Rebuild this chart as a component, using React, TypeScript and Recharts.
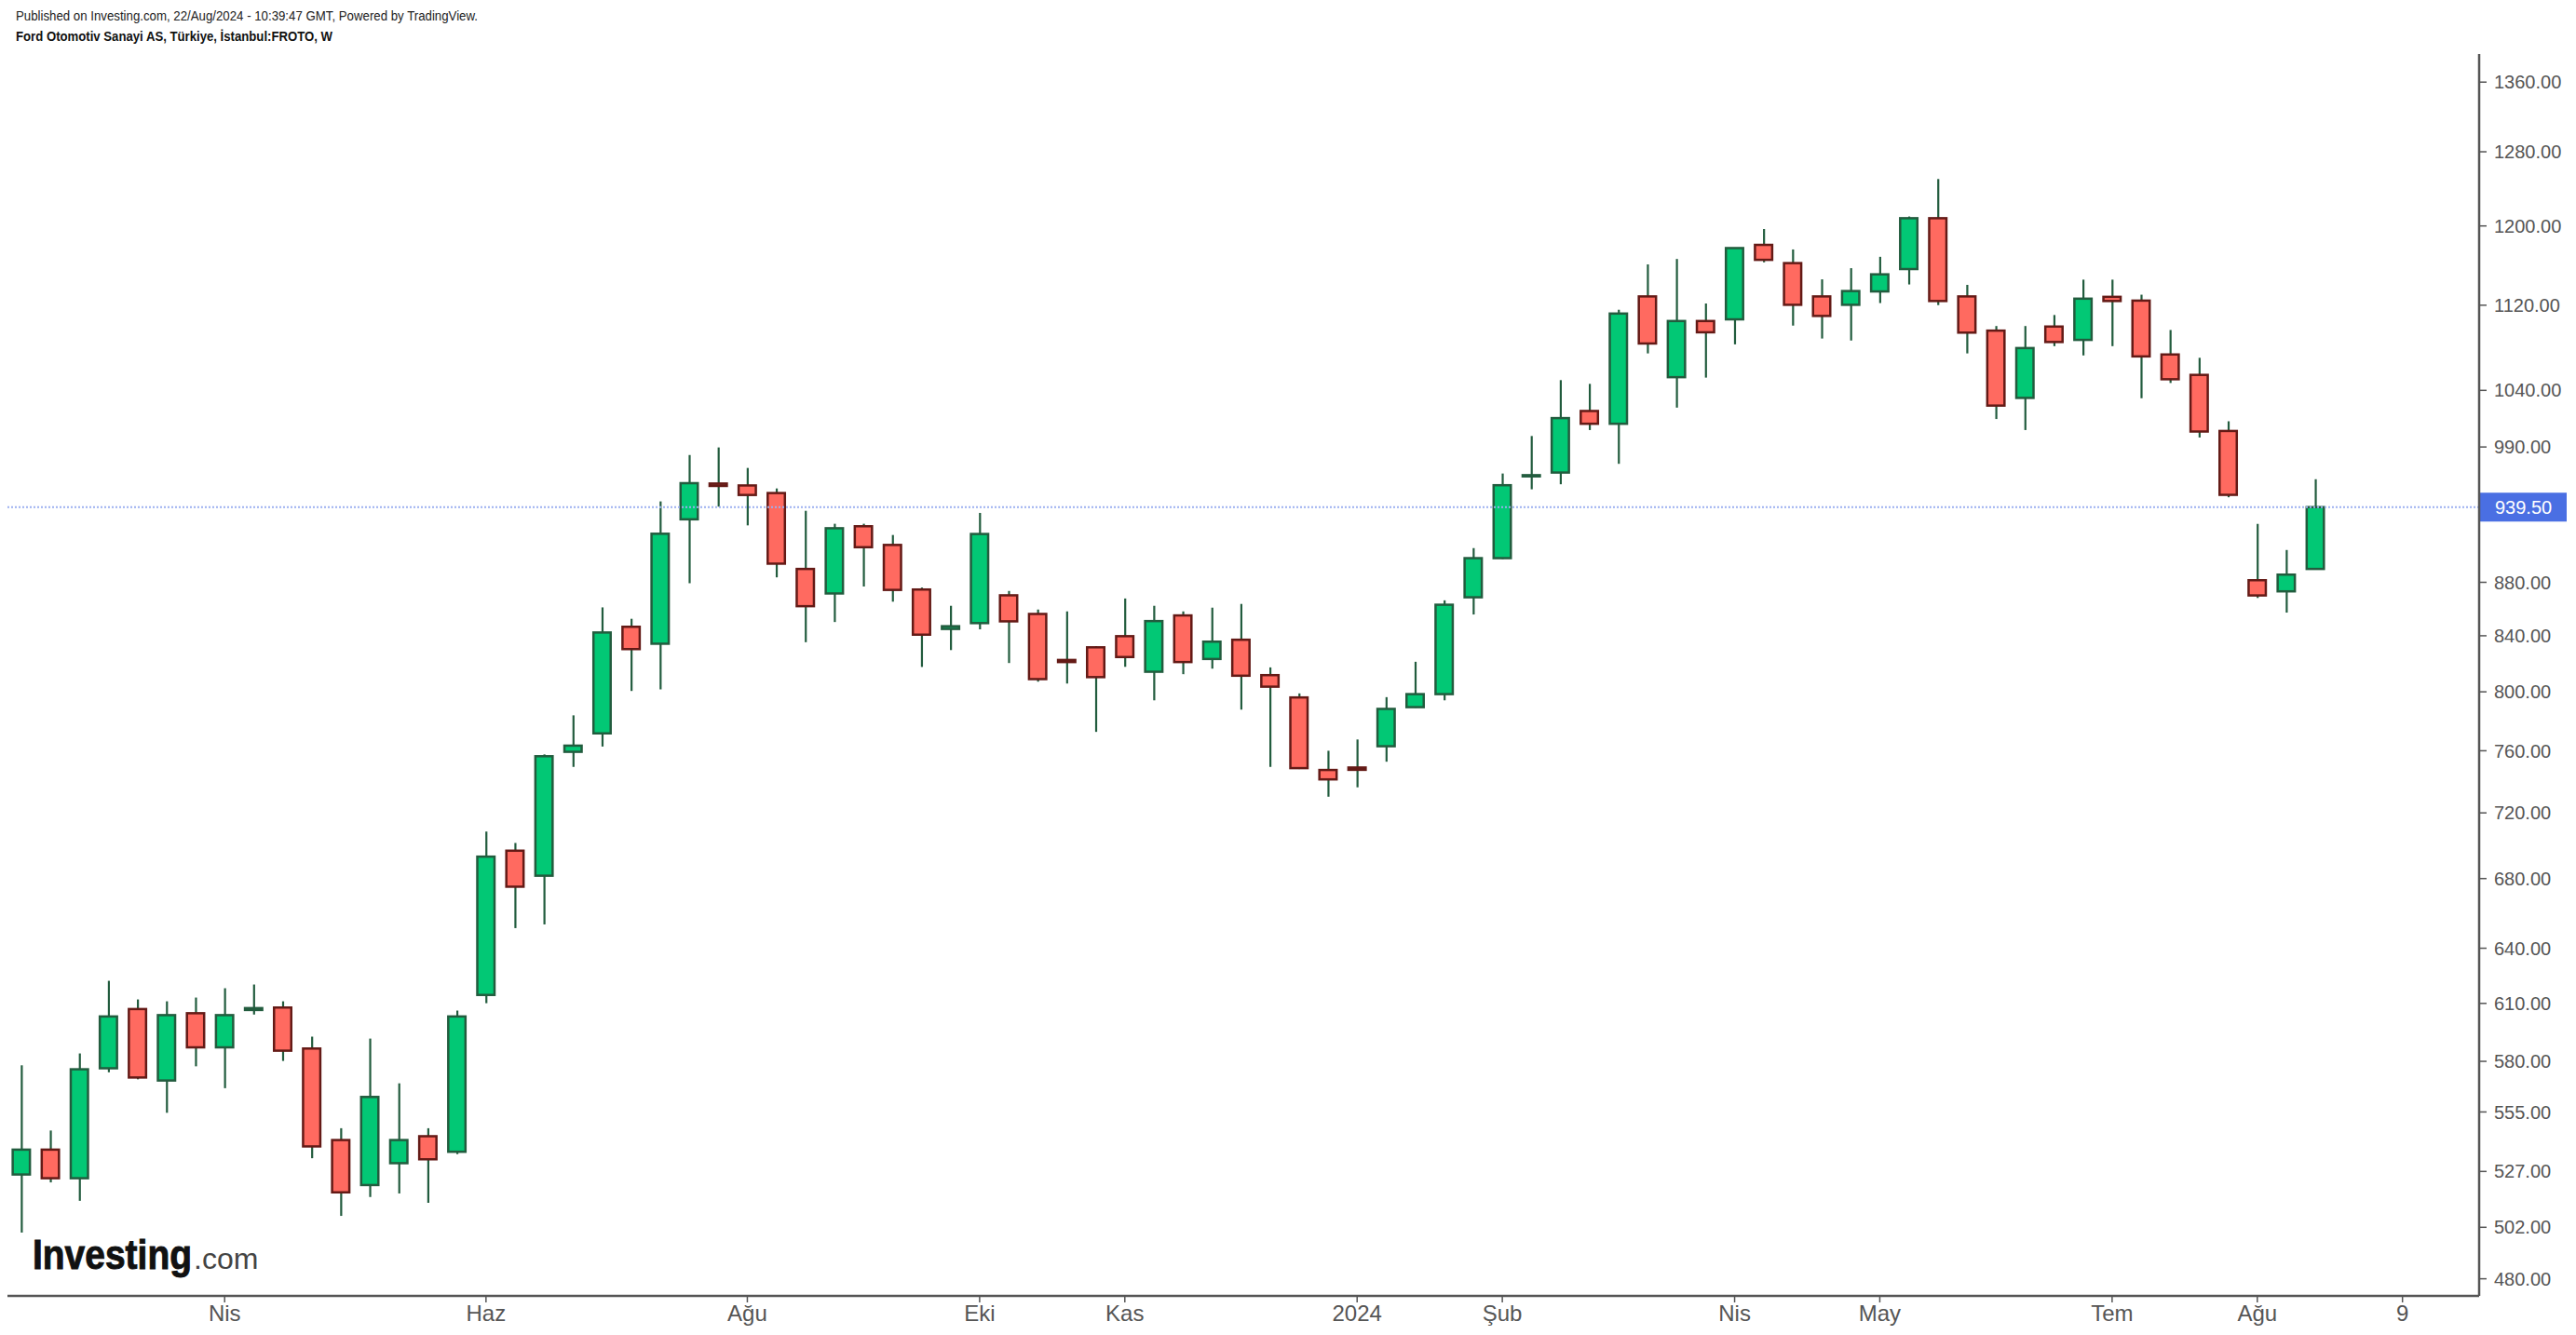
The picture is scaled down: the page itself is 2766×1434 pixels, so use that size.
import React from 'react';
import { ComposedChart, Bar, XAxis, YAxis, ReferenceLine } from 'recharts';

// weekly FROTO candles, Feb 2023 .. Aug 2024 (index = week number)
const opens = [
  525.6, 537.1, 523.9, 576.5, 607.0, 570.4, 604.8, 587.1, 606.5, 607.8,
  586.5, 541.6, 520.8, 530.8, 543.4, 536.1, 614.5, 696.7, 681.7, 759.3,
  771.6, 846.6, 834.2, 929.6, 959.0, 957.4, 951.1, 890.3, 871.5, 924.0,
  909.1, 874.5, 845.0, 849.3, 870.1, 856.1, 822.5, 831.6, 839.7, 814.1,
  855.0, 823.2, 837.1, 811.7, 796.1, 747.4, 749.0, 763.0, 789.4, 798.4,
  868.6, 898.7, 965.0, 968.2, 1021.5, 1010.2, 1128.6, 1052.0, 1104.7, 1106.3,
  1180.4, 1161.8, 1128.6, 1120.4, 1133.5, 1155.8, 1208.1, 1128.6, 1095.5, 1033.2,
  1099.4, 1086.7, 1128.2, 1124.5, 1073.0, 1054.1, 1003.9, 881.6, 873.1, 890.3,
];
const highs = [
  578.0, 546.1, 584.0, 622.1, 612.1, 611.1, 613.1, 618.1, 620.1, 611.1,
  592.6, 547.2, 591.6, 569.0, 547.2, 606.2, 708.4, 701.4, 757.6, 783.8,
  861.0, 852.5, 944.2, 983.1, 989.6, 972.1, 954.9, 936.5, 926.0, 926.0,
  917.0, 876.0, 862.2, 934.8, 873.4, 859.4, 858.0, 832.5, 867.7, 862.2,
  858.0, 860.8, 863.6, 817.2, 798.9, 760.0, 767.5, 796.3, 821.2, 866.3,
  906.6, 967.4, 999.5, 1049.3, 1045.9, 1115.6, 1160.5, 1166.0, 1121.7, 1177.5,
  1196.8, 1175.7, 1145.5, 1156.7, 1168.2, 1209.9, 1250.0, 1140.0, 1099.9, 1099.9,
  1110.5, 1145.2, 1145.2, 1130.3, 1096.1, 1069.9, 1012.4, 925.9, 905.1, 962.6,
];
const lows = [
  499.7, 522.0, 513.7, 574.5, 571.0, 554.6, 577.5, 566.6, 604.1, 580.2,
  533.1, 507.0, 515.4, 517.0, 512.8, 535.0, 610.1, 651.3, 653.4, 749.4,
  762.8, 800.6, 801.7, 879.3, 939.9, 924.7, 883.8, 835.3, 850.1, 876.8,
  865.3, 817.5, 829.6, 844.7, 820.3, 807.1, 805.8, 772.6, 817.6, 794.1,
  812.4, 816.3, 787.7, 749.4, 748.0, 730.2, 736.2, 752.8, 789.0, 794.1,
  855.7, 898.0, 954.2, 958.4, 1004.7, 975.6, 1074.0, 1024.5, 1051.6, 1082.5,
  1162.6, 1100.3, 1088.0, 1086.1, 1122.1, 1140.4, 1120.1, 1074.0, 1014.4, 1004.7,
  1080.8, 1072.1, 1080.8, 1032.9, 1046.7, 998.2, 947.6, 868.1, 857.1, 890.3,
];
const closes = [
  537.1, 523.9, 576.0, 603.1, 571.9, 603.8, 587.1, 603.8, 607.5, 585.4,
  538.6, 517.5, 562.3, 541.6, 532.6, 603.1, 693.1, 675.2, 756.4, 763.4,
  842.4, 830.3, 918.0, 959.3, 957.0, 949.5, 894.4, 861.9, 922.4, 907.3,
  874.2, 840.8, 847.0, 917.8, 850.6, 808.9, 821.0, 810.3, 824.6, 850.8,
  821.0, 835.7, 811.3, 803.6, 748.6, 741.3, 747.5, 788.2, 798.4, 863.0,
  898.7, 957.6, 966.0, 1015.2, 1010.2, 1111.9, 1083.3, 1104.7, 1093.9, 1177.1,
  1165.1, 1120.4, 1109.6, 1133.9, 1150.5, 1208.1, 1124.1, 1093.6, 1026.3, 1079.0,
  1084.7, 1126.4, 1124.1, 1071.2, 1050.1, 1003.4, 949.6, 870.0, 885.9, 939.5,
];

const monthTicks = [7, 16, 25, 33, 38, 46, 51, 59, 64, 72, 77, 82];
const monthLabels = ['Nis', 'Haz', 'Ağu', 'Eki', 'Kas', '2024', 'Şub', 'Nis', 'May', 'Tem', 'Ağu', '9'];
const priceTicks = [480, 502, 527, 555, 580, 610, 640, 680, 720, 760, 800, 840, 880, 990, 1040, 1120, 1200, 1280, 1360];
const lastPrice = 939.5;

const UP = '#02c875';
const UP_EDGE = '#225c3e';
const DOWN = '#ff6a60';
const DOWN_EDGE = '#641a16';
const WICK = '#225c3e';
const AXIS = '#555555';
const NARROW = '"Liberation Sans Narrow", "Arial Narrow", "Liberation Sans", Arial, sans-serif';
const SANS = '"Liberation Sans", Arial, sans-serif';

const rows = opens.map((o, i) => ({
  i,
  open: o,
  close: closes[i],
  wick: [lows[i], highs[i]],
  body: [Math.min(o, closes[i]), Math.max(o, closes[i])],
}));

const Wick = (p: any) => {
  const cx = p.x + p.width / 2;
  return <line x1={cx} x2={cx} y1={p.y} y2={p.y + p.height} stroke={WICK} strokeWidth={2.2} />;
};

const Body = (p: any) => {
  const up = p.payload.close >= p.payload.open;
  return (
    <rect
      x={p.x + 1.25}
      y={p.y}
      width={p.width - 2.5}
      height={Math.max(p.height, 0.8)}
      fill={up ? UP : DOWN}
      stroke={up ? UP_EDGE : DOWN_EDGE}
      strokeWidth={2.5}
    />
  );
};

const PriceTag = (props: any) => {
  const vb = props.viewBox;
  const x = vb.x + vb.width;
  const y = vb.y;
  return (
    <g>
      <rect x={x} y={y - 15.5} width={94} height={31} fill="#4a6fe3" />
      <text x={x + 17} y={y} dy="0.36em" fill="#fff" fontSize={20} fontFamily={SANS}>
        {lastPrice.toFixed(2)}
      </text>
    </g>
  );
};

export default function App() {
  return (
    <div style={{ position: 'relative', width: 2758, height: 1426, fontFamily: SANS }}>
      <svg width={700} height={60} style={{ position: 'absolute', left: 0, top: 0 }}>
        <text x={9} y={14} fontSize={14} fill="#222" fontFamily={NARROW} textLength={496} lengthAdjust="spacingAndGlyphs">
          Published on Investing.com, 22/Aug/2024 - 10:39:47 GMT, Powered by TradingView.
        </text>
        <text x={9} y={36} fontSize={14} fontWeight="bold" fill="#111" fontFamily={NARROW} textLength={340} lengthAdjust="spacingAndGlyphs">
          Ford Otomotiv Sanayi AS, Türkiye, İstanbul:FROTO, W
        </text>
      </svg>

      <ComposedChart width={2758} height={1426} data={rows} margin={{ top: 50, right: 0, bottom: 0, left: 0 }}>
        <XAxis
          dataKey="i"
          type="number"
          domain={[-0.48, 84.64]}
          allowDataOverflow
          ticks={monthTicks}
          interval={0}
          tickFormatter={(v: number) => monthLabels[monthTicks.indexOf(v)]}
          height={42}
          axisLine={{ stroke: AXIS, strokeWidth: 2.5 }}
          tickLine={{ stroke: AXIS, strokeWidth: 1.5 }}
          tickSize={7}
          tickMargin={3}
          tick={{ fill: AXIS, fontSize: 24, fontFamily: NARROW }}
        />
        <XAxis xAxisId="w" dataKey="i" type="number" domain={[-0.48, 84.64]} allowDataOverflow hide />
        <YAxis
          orientation="right"
          scale="log"
          domain={[472.9, 1393.7]}
          allowDataOverflow
          ticks={priceTicks}
          interval={0}
          tickFormatter={(v: number) => v.toFixed(2)}
          width={104}
          axisLine={{ stroke: AXIS, strokeWidth: 2.5 }}
          tickLine={{ stroke: AXIS, strokeWidth: 1.5 }}
          tickSize={8}
          tickMargin={8}
          tick={{ fill: AXIS, fontSize: 20, fontFamily: SANS }}
        />
        <Bar xAxisId="w" dataKey="wick" barSize={4} shape={Wick} isAnimationActive={false} />
        <Bar dataKey="body" barSize={21} shape={Body} isAnimationActive={false} />
        <ReferenceLine y={lastPrice} stroke="#9cb0f0" strokeWidth={2} strokeDasharray="2 2" label={PriceTag} />
      </ComposedChart>

      <svg width={320} height={80} style={{ position: 'absolute', left: 0, top: 1310 }}>
        <text x={27} y={45} fill="#111">
          <tspan fontSize={45} fontWeight="bold" stroke="#111" strokeWidth={1} textLength={171} lengthAdjust="spacingAndGlyphs">
            Investing
          </tspan>
          <tspan x={200} fontSize={32} fill="#444" strokeWidth={0}>
            .com
          </tspan>
        </text>
      </svg>
    </div>
  );
}
